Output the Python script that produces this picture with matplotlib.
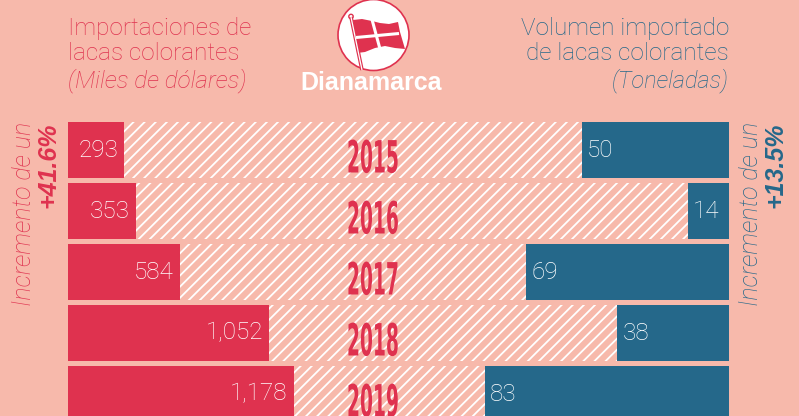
import matplotlib
matplotlib.use('Agg')
import matplotlib.pyplot as plt
from matplotlib.patches import Circle, Polygon
from matplotlib.patheffects import AbstractPathEffect
from matplotlib.transforms import Affine2D

years = ['2015', '2016', '2017', '2018', '2019']
imports_usd = [293, 353, 584, 1052, 1178]
imports_labels = ['293', '353', '584', '1,052', '1,178']
volume_tons = [50, 14, 69, 38, 83]

BG = '#f7b9ab'
RED = '#df324f'
BLUE = '#25688a'
W, H = 799, 416
FONT = 'Roboto'


class Squeeze(AbstractPathEffect):
    # narrows a text around a pixel column, there is no condensed font here
    def __init__(self, cx, sx):
        super().__init__()
        self.cx = cx
        self.sx = sx

    def draw_path(self, renderer, gc, tpath, affine, rgbFace=None):
        squeeze = Affine2D().translate(-self.cx, 0).scale(self.sx, 1).translate(self.cx, 0)
        renderer.draw_path(gc, tpath, affine + squeeze, rgbFace)


plt.rcParams['font.family'] = [FONT, 'DejaVu Sans']
plt.rcParams['hatch.linewidth'] = 1.3
fig = plt.figure(figsize=(W / 100, H / 100), dpi=100, facecolor=BG)

# bars, both axes share the same box
box = [68 / W, 0, (729 - 68) / W, (416 - 122) / H]
ax_l = fig.add_axes(box)
ax_r = fig.add_axes(box)
ax_r.patch.set_alpha(0)
ax_l.set_facecolor(BG)
ax_l.set_xlim(0, 661 / 0.1915)
ax_r.set_xlim(661 / 2.94, 0)
for ax in (ax_l, ax_r):
    ax.set_ylim(4.36, -0.459)
    ax.axis('off')

rows = list(range(len(years)))
ax_l.barh(rows, [661 / 0.1915] * 5, height=0.91, color=BG, edgecolor='white', hatch='///', linewidth=0)
ax_l.barh(rows, imports_usd, height=0.91, color=RED)
ax_r.barh(rows, volume_tons, height=0.91, color=BLUE)

# overlay in pixels for the texts and the flag
ov = fig.add_axes([0, 0, 1, 1])
ov.set_xlim(0, W)
ov.set_ylim(H, 0)
ov.axis('off')
ov.patch.set_alpha(0)

for i, (lab, v) in enumerate(zip(imports_labels, imports_usd)):
    ax_l.annotate(lab, (v, i), xytext=(-6, 0), textcoords='offset pixels', ha='right', va='center',
                  color='white', fontsize=17.5, fontweight='light')
for i, v in enumerate(volume_tons):
    ax_r.annotate(str(v), (v, i), xytext=(5, 0), textcoords='offset pixels', ha='left', va='center',
                  color='white', fontsize=17.5, fontweight='light')

for i, y in enumerate(years):
    ov.text(373, 160 + 61 * i, y, ha='center', va='center', color=RED, fontsize=32, fontweight='bold',
            family='Liberation Sans Narrow', path_effects=[Squeeze(373, 0.42)])

# headers
ov.text(68, 28, 'Importaciones de', color=RED, fontsize=17.5, fontweight='light', va='center')
ov.text(68, 54, 'lacas colorantes', color=RED, fontsize=17.5, fontweight='light', va='center')
ov.text(68, 81, '(Miles de dólares)', color=RED, fontsize=17.5, fontweight='light', style='italic', va='center')
ov.text(729, 28, 'Volumen importado', color=BLUE, fontsize=17.5, fontweight='light', va='center', ha='right')
ov.text(729, 54, 'de lacas colorantes', color=BLUE, fontsize=17.5, fontweight='light', va='center', ha='right')
ov.text(729, 81, '(Toneladas)', color=BLUE, fontsize=17, fontweight='light', style='italic', va='center', ha='right')
ov.text(371, 83, 'Dianamarca', color='white', fontsize=18, fontweight='bold', ha='center', va='center',
        family='Liberation Sans')

# side notes
ov.text(24, 122, 'Incremento de un', color=RED, fontsize=18, fontweight='light', style='italic',
        rotation=90, ha='center', va='top')
ov.text(48, 122, '+41.6%', color=RED, fontsize=18, fontweight='bold', style='italic',
        rotation=90, ha='center', va='top', family='Liberation Sans')
ov.text(751, 122, 'Incremento de un', color=BLUE, fontsize=18, fontweight='light', style='italic',
        rotation=90, ha='center', va='top')
ov.text(775, 122, '+13.5%', color=BLUE, fontsize=18, fontweight='bold', style='italic',
        rotation=90, ha='center', va='top', family='Liberation Sans')

# flag emblem
ov.add_patch(Circle((373.5, 35), 35.5, fc='white', ec=RED, lw=1.2))
ov.plot([351, 362], [17, 70], color=RED, lw=2.6, solid_capstyle='butt')
ov.plot([351, 362], [17, 70], color='white', lw=0.9, solid_capstyle='butt')
ov.add_patch(Circle((351, 16.5), 2.2, fc='white', ec=RED, lw=1))
flag = [(353, 20), (362, 19), (372, 21), (380, 23), (389, 24), (398, 22), (400, 32), (405, 49),
        (395, 48), (385, 46), (375, 48), (365, 52), (357, 53), (356, 42)]
ov.add_patch(Polygon(flag, closed=True, fc=RED, ec='none'))
ov.plot([372, 380], [19.5, 49], color='white', lw=2.2, solid_capstyle='butt')
ov.plot([356, 399], [37.5, 33.5], color='white', lw=2.2, solid_capstyle='butt')

fig.savefig('out.png', dpi=100, facecolor=BG)
